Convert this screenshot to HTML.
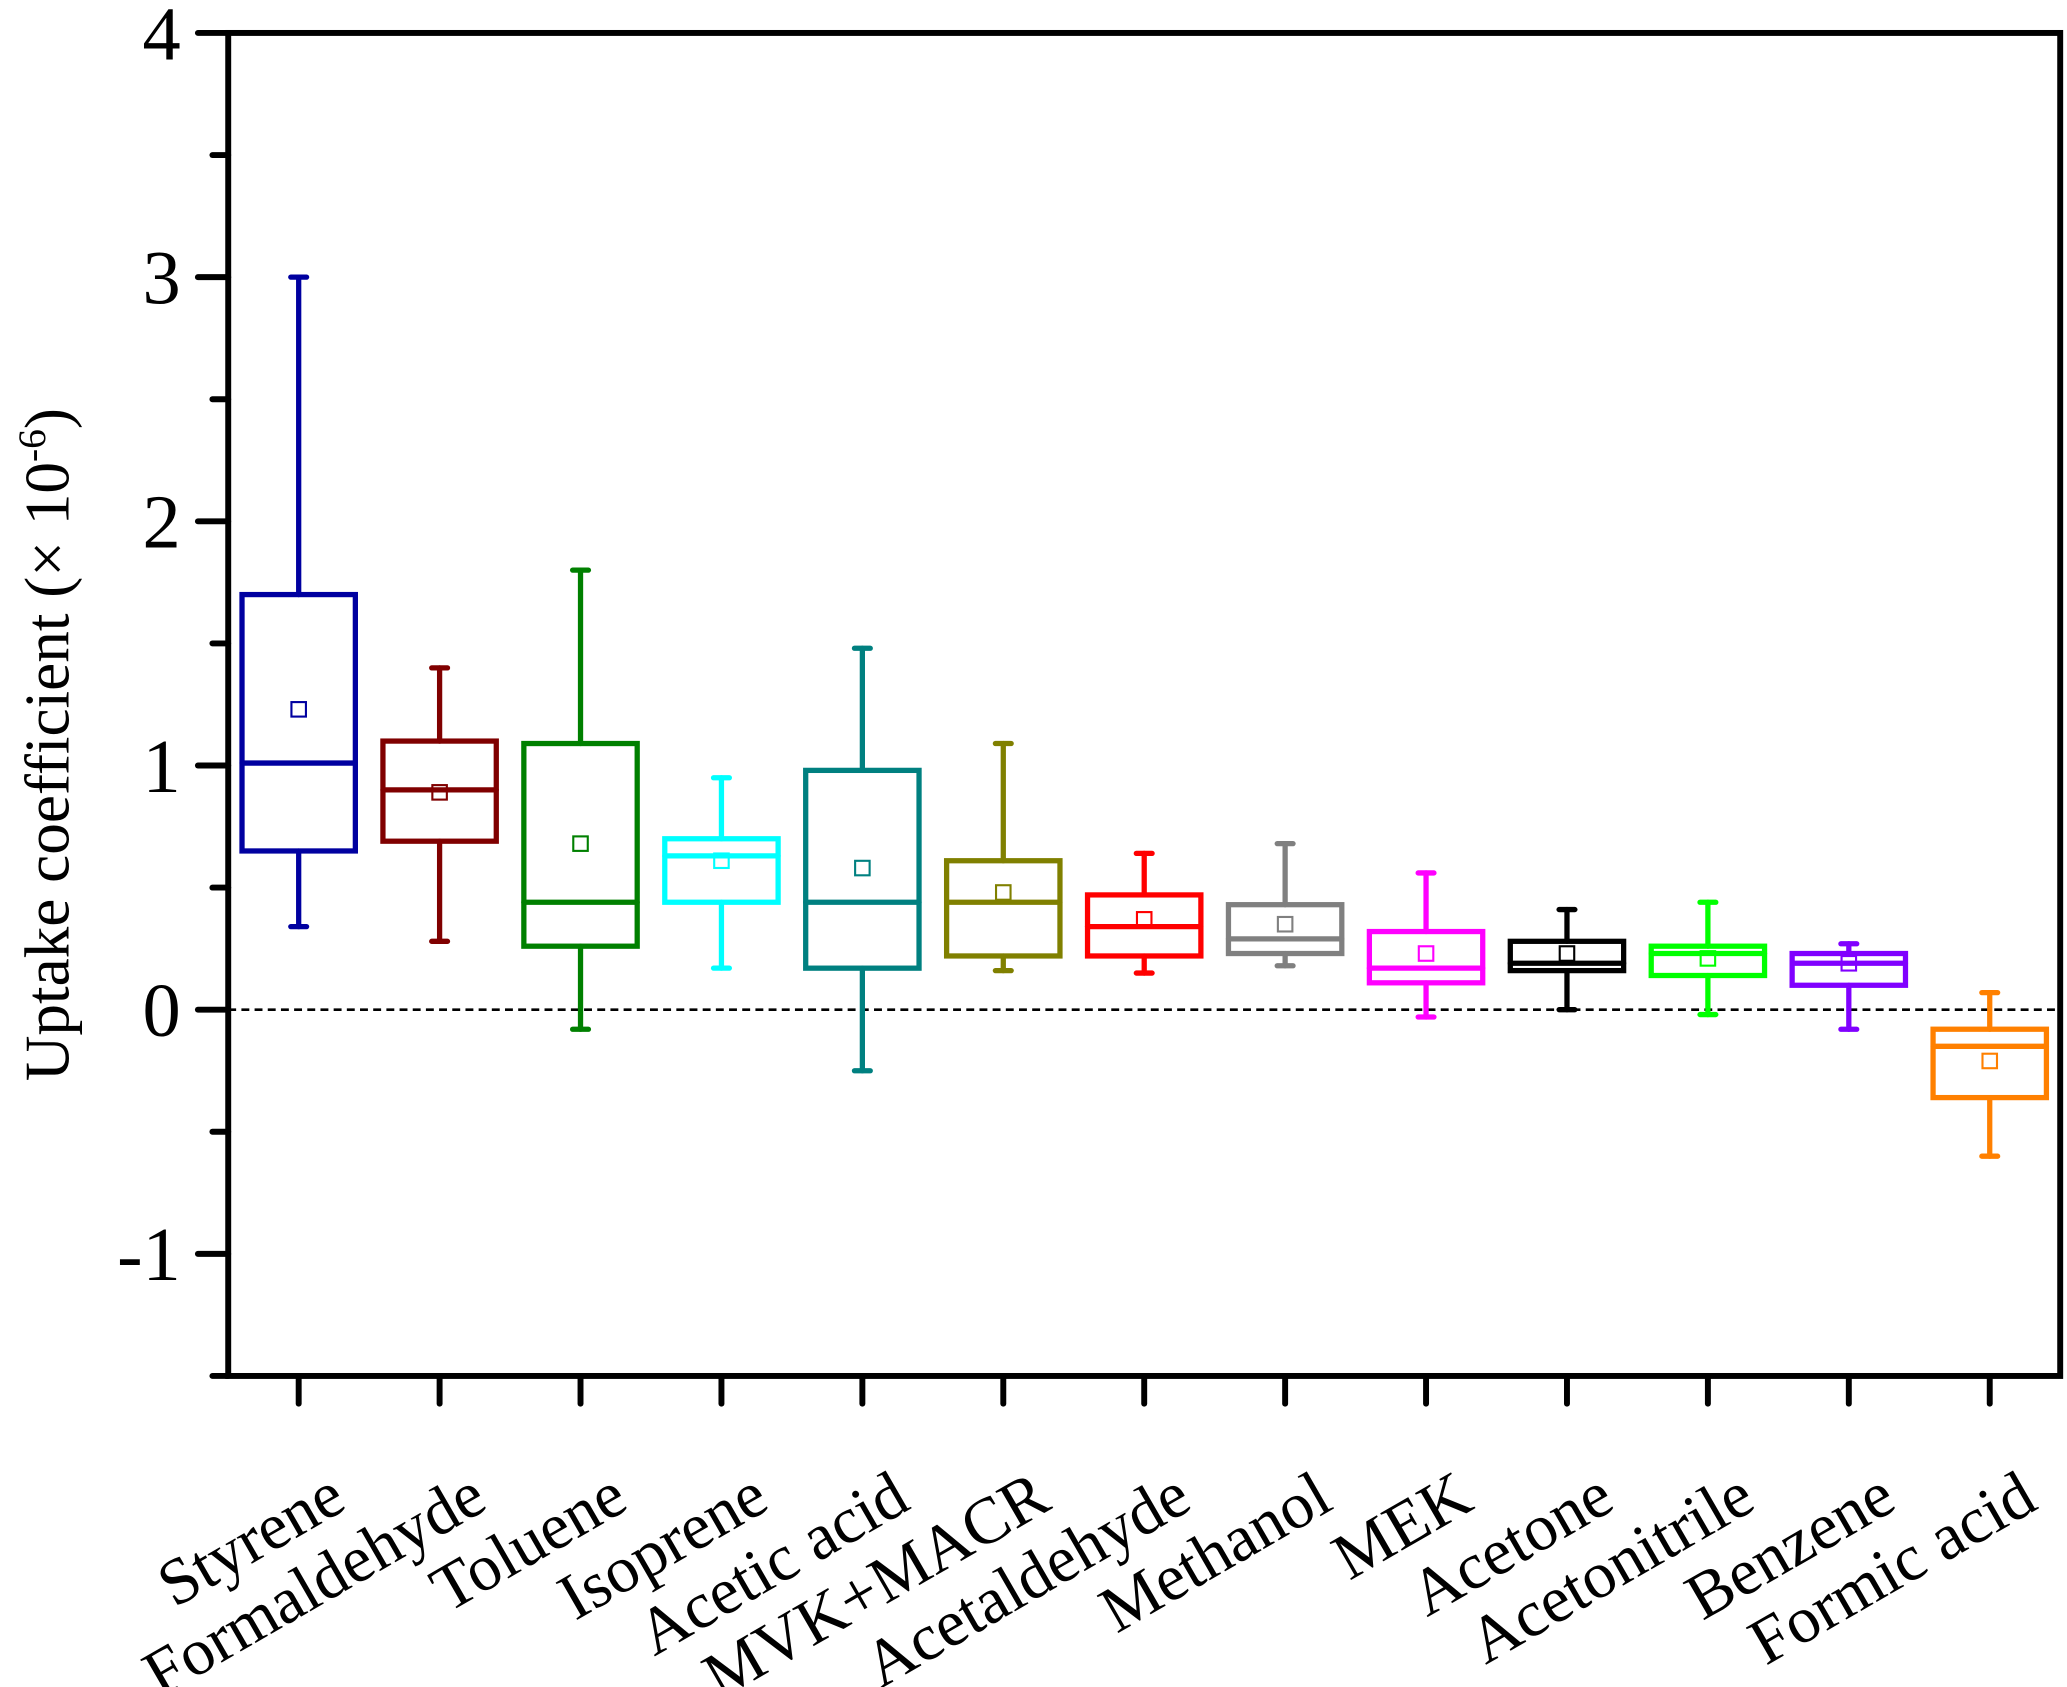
<!DOCTYPE html>
<html><head><meta charset="utf-8"><style>html,body{margin:0;padding:0;background:#fff}svg{display:block}svg text{font-family:"Liberation Serif","Times New Roman",serif}</style></head>
<body>
<svg id="chart" width="2067" height="1687" viewBox="0 0 1568 1280" xmlns="http://www.w3.org/2000/svg">
<g id="g"></g>
</svg>
<script>
const categories=["Styrene","Formaldehyde","Toluene","Isoprene","Acetic acid","MVK+MACR","Acetaldehyde","Methanol","MEK","Acetone","Acetonitrile","Benzene","Formic acid"];
const colors=["#0000a0","#800000","#008000","#00ffff","#008080","#808000","#ff0000","#808080","#ff00ff","#000000","#00ff00","#8000ff","#ff8000"];
const whiskerLow=[0.34,0.28,-0.08,0.17,-0.25,0.16,0.15,0.18,-0.03,0.0,-0.02,-0.08,-0.60];
const whiskerHigh=[3.0,1.40,1.80,0.95,1.48,1.09,0.64,0.68,0.56,0.41,0.44,0.27,0.07];
const q1=[0.65,0.69,0.26,0.44,0.17,0.22,0.22,0.23,0.11,0.16,0.14,0.10,-0.36];
const q3=[1.70,1.10,1.09,0.70,0.98,0.61,0.47,0.43,0.32,0.28,0.26,0.23,-0.08];
const medians=[1.01,0.90,0.44,0.63,0.44,0.44,0.34,0.29,0.17,0.19,0.23,0.19,-0.15];
const means=[1.23,0.89,0.68,0.61,0.58,0.48,0.37,0.35,0.23,0.23,0.21,0.19,-0.21];
const yTicks=[-1,0,1,2,3,4];
const yMin=-1.5,yMax=4;
const L=173,R=1563,T=25,B=1044;
const yS=v=>B-(v-yMin)/(yMax-yMin)*(B-T);
const step=(R-L)/13;
const xS=i=>L+step*(i+0.5);
const g=document.getElementById('g');
const NS="http://www.w3.org/2000/svg";
function mk(tag,a,p){const e=document.createElementNS(NS,tag);for(const k in a)e.setAttribute(k,a[k]);(p||g).appendChild(e);return e;}
let z=mk('line',{x1:L,x2:R,y1:yS(0),y2:yS(0),stroke:'#000','stroke-width':2,'stroke-dasharray':'6,4'});


categories.forEach((c,i)=>{
  const x=xS(i),w=43,col=colors[i];
  const grp=mk('g',{stroke:col,'stroke-width':4,fill:'none','stroke-linecap':'round'});
  
  
  mk('line',{x1:x,x2:x,y1:yS(whiskerHigh[i]),y2:yS(q3[i])},grp);
  mk('line',{x1:x,x2:x,y1:yS(q1[i]),y2:yS(whiskerLow[i])},grp);
  mk('line',{x1:x-6,x2:x+6,y1:yS(whiskerHigh[i]),y2:yS(whiskerHigh[i])},grp);
  mk('line',{x1:x-6,x2:x+6,y1:yS(whiskerLow[i]),y2:yS(whiskerLow[i])},grp);
  mk('rect',{x:x-w,y:yS(q3[i]),width:2*w,height:yS(q1[i])-yS(q3[i])},grp);
  mk('line',{x1:x-w,x2:x+w,y1:yS(medians[i]),y2:yS(medians[i])},grp);
  mk('rect',{x:x-5.5,y:yS(means[i])-5.5,width:11,height:11,'stroke-width':1.6},grp);
});
let f=mk('rect',{x:L,y:T,width:R-L,height:B-T,fill:'none',stroke:'#000','stroke-width':4.5});


for(let v=yMin;v<=yMax+1e-9;v+=0.5){
  const maj=Math.abs(v-Math.round(v))<1e-9;
  mk('line',{x1:maj?150:161,x2:L,y1:yS(v),y2:yS(v),stroke:'#000','stroke-width':4.5,'stroke-linecap':'round'});
}
yTicks.forEach(v=>{
  const t=mk('text',{x:137,y:yS(v)+20,'text-anchor':'end','font-size':58});
  t.textContent=v<0?'-'+Math.abs(v):String(v);
  
  
});
categories.forEach((c,i)=>{
  const x=xS(i);
  mk('line',{x1:x,x2:x,y1:B,y2:B+21,stroke:'#000','stroke-width':4.5,'stroke-linecap':'round'});
  const t=mk('text',{x:x+38,y:1144,'text-anchor':'end','font-size':50,transform:`rotate(-30 ${x+38} 1144)`});
  t.textContent=c;
  
  
});
const yt=mk('text',{x:0,y:0,'text-anchor':'middle','font-size':48,transform:'translate(52 565) rotate(-90)'});
yt.innerHTML='Uptake coefficient (× 10<tspan dy="-18" font-size="30">-6</tspan><tspan dy="18">)</tspan>';


</script>
</body></html>
